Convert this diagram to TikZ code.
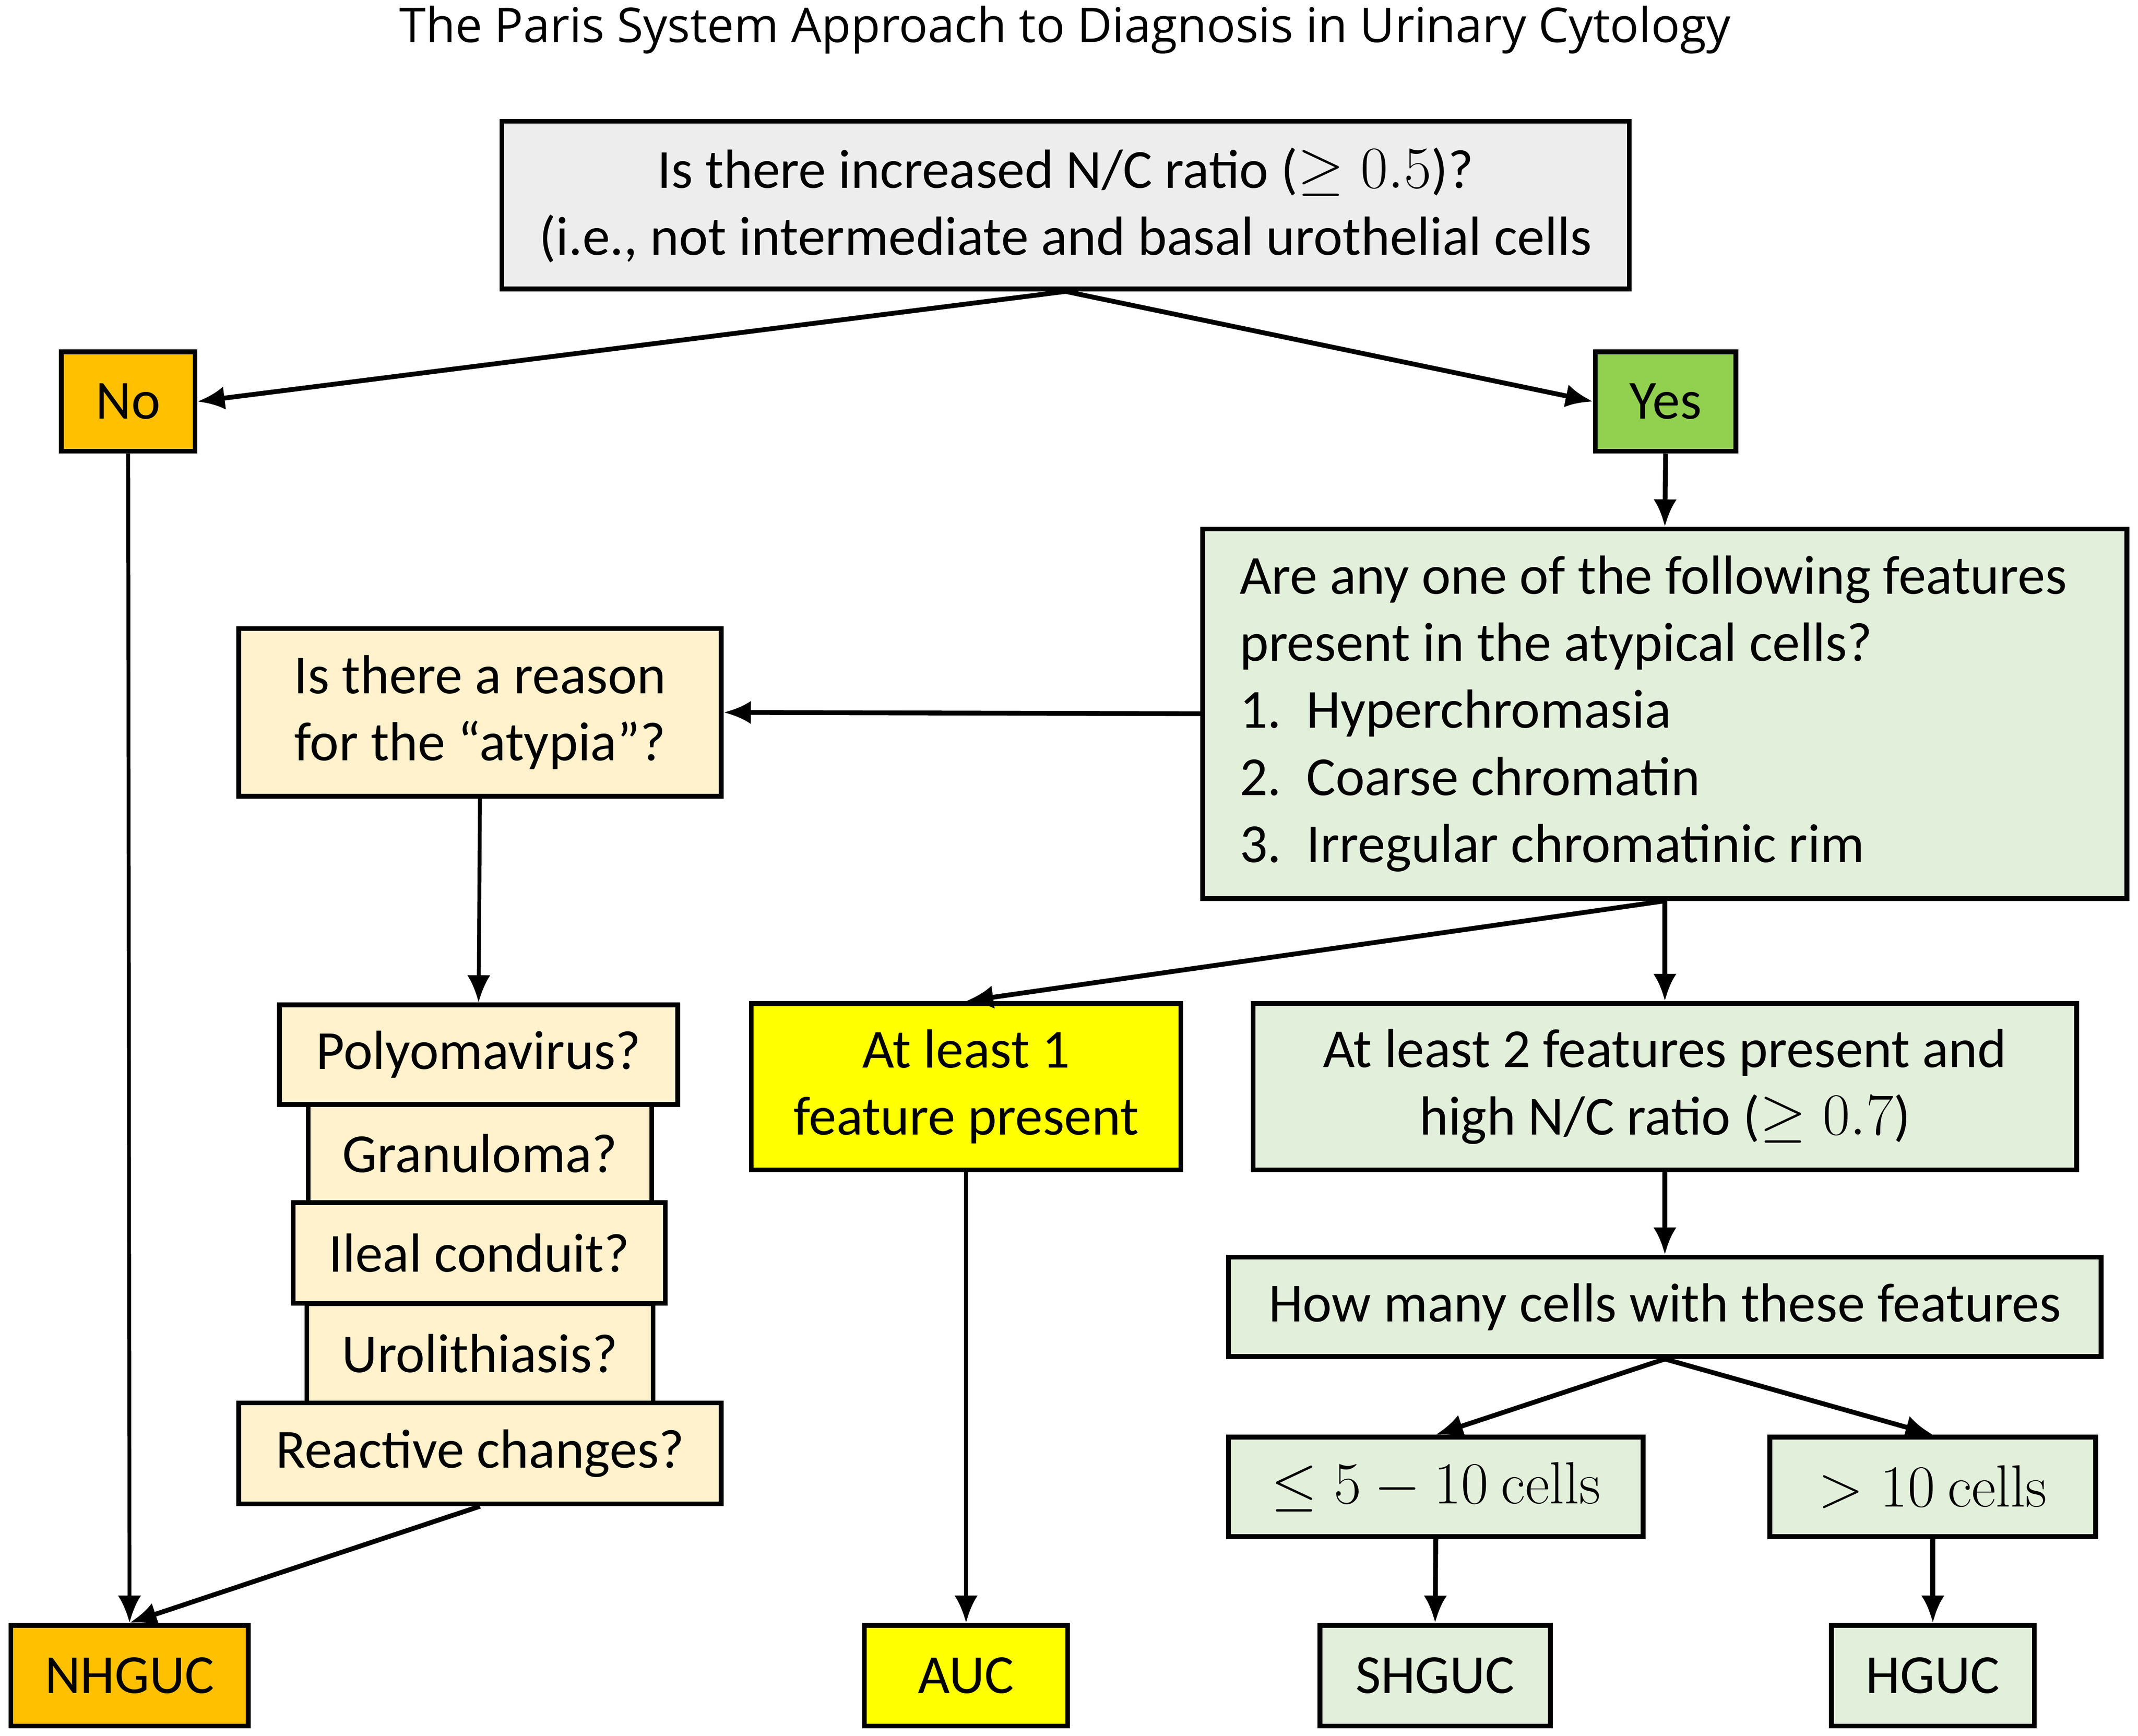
\documentclass[tikz,border=0pt]{standalone}
\usepackage{amsmath}
\usepackage[no-math]{fontspec}
\setmainfont{Carlito}
\newfontfamily\titlefont{Open Sans}
\usepackage{xcolor}
\usepackage{tikz}
\usetikzlibrary{arrows.meta,positioning,calc}
\definecolor{qgray}{HTML}{EDEDED}
\definecolor{noorange}{HTML}{FFC000}
\definecolor{yesgreen}{HTML}{92D050}
\definecolor{palegreen}{HTML}{E2EFDA}
\definecolor{cream}{HTML}{FFF2CC}
\definecolor{brightyellow}{HTML}{FFFF00}
\begin{document}
\begin{tikzpicture}[x=0.02cm,y=-0.02cm,
	box/.style={draw,line width=2pt,inner sep=0pt,align=center,font=\fontsize{23}{28}\selectfont},
	arr/.style={-{Latex[length=0.4cm,width=0.34cm]},line width=2pt}]
		\useasboundingbox (0,0) rectangle (1568,1273);
		\node[font=\titlefont\fontsize{20}{24}\selectfont] (title) at (781,22) {The Paris System Approach to Diagnosis in Urinary Cytology};
		% question on N/C ratio
		\node[box,fill=qgray,minimum width=16.54cm,minimum height=2.46cm] (ratio) at (781.5,150.5) {Is there increased N/C ratio ($\geq 0.5$)?\\(i.e., not intermediate and basal urothelial cells};
		\node[box,fill=noorange,minimum width=1.96cm,minimum height=1.46cm] (no) at (94,294.5) {No};
		\node[box,fill=yesgreen,minimum width=2.06cm,minimum height=1.46cm] (yes) at (1221.5,294.5) {Yes};
		\node[box,fill=palegreen,minimum width=13.56cm,minimum height=5.42cm,align=left] (features) at (1221,523.5) {Are any one of the following features\hspace*{0.34cm}\\present in the atypical cells?\\\makebox[0.98cm][l]{1.}Hyperchromasia\\\makebox[0.98cm][l]{2.}Coarse chromatin\\\makebox[0.98cm][l]{3.}Irregular chromatinic rim};
		\node[box,fill=cream,minimum width=7.08cm,minimum height=2.46cm] (reason) at (352,522.5) {Is there a reason\\for the “atypia”?};
		% stack of reasons
		\node[box,fill=cream,minimum width=5.04cm,minimum height=1.44cm] (granuloma) at (352,846) {Granuloma?};
		\node[box,fill=cream,minimum width=5.08cm,minimum height=1.46cm] (urolith) at (352,992.5) {Urolithiasis?};
		\node[box,fill=cream,minimum width=5.84cm,minimum height=1.46cm] (polyoma) at (351,773.5) {Polyomavirus?};
		\node[box,fill=cream,minimum width=5.46cm,minimum height=1.48cm] (ileal) at (351.5,919) {Ileal conduit?};
		\node[box,fill=cream,minimum width=7.08cm,minimum height=1.48cm] (reactive) at (352,1066) {Reactive changes?};
		% feature counts
		\node[box,fill=brightyellow,minimum width=6.30cm,minimum height=2.44cm] (one) at (708.5,797) {At least 1\\feature present};
		\node[box,fill=palegreen,minimum width=12.08cm,minimum height=2.44cm] (two) at (1221,797) {At least 2 features present and\\high N/C ratio ($\geq 0.7$)};
		\node[box,fill=palegreen,minimum width=12.80cm,minimum height=1.46cm] (many) at (1221,958.5) {How many cells with these features};
		\node[box,fill=palegreen,minimum width=6.08cm,minimum height=1.46cm] (few) at (1053,1090.5) {$\leq 5-10\ \mathrm{cells}$};
		\node[box,fill=palegreen,minimum width=4.78cm,minimum height=1.46cm] (lots) at (1417.5,1090.5) {$>10\ \mathrm{cells}$};
		% diagnoses
		\node[box,fill=noorange,minimum width=3.48cm,minimum height=1.48cm] (nhguc) at (95,1229) {NHGUC};
		\node[box,fill=brightyellow,minimum width=2.98cm,minimum height=1.48cm] (auc) at (708.5,1229) {AUC};
		\node[box,fill=palegreen,minimum width=3.38cm,minimum height=1.48cm] (shguc) at (1052.5,1229) {SHGUC};
		\node[box,fill=palegreen,minimum width=2.98cm,minimum height=1.48cm] (hguc) at (1417.5,1229) {HGUC};
		% connectors
		\draw[arr] (ratio.south) -- (no.east);
		\draw[arr] (ratio.south) -- (yes.west);
		\draw[arr] (yes.south) -- (features.north);
		\draw[arr] (features.west) -- (reason.east);
		\draw[arr,line width=1.6pt] (reason.south) -- (polyoma.north);
		\draw[arr,line width=1.6pt] (no.south) -- (nhguc.north);
		\draw[arr] (reactive.south) -- (nhguc.north);
		\draw[arr] (features.south) -- (one.north);
		\draw[arr] (features.south) -- (two.north);
		\draw[arr,line width=1.6pt] (one.south) -- (auc.north);
		\draw[arr] (two.south) -- (many.north);
		\draw[arr] (many.south) -- (few.north);
		\draw[arr] (many.south) -- (lots.north);
		\draw[arr] (few.south) -- (shguc.north);
		\draw[arr] (lots.south) -- (hguc.north);
	\end{tikzpicture}
\end{document}
